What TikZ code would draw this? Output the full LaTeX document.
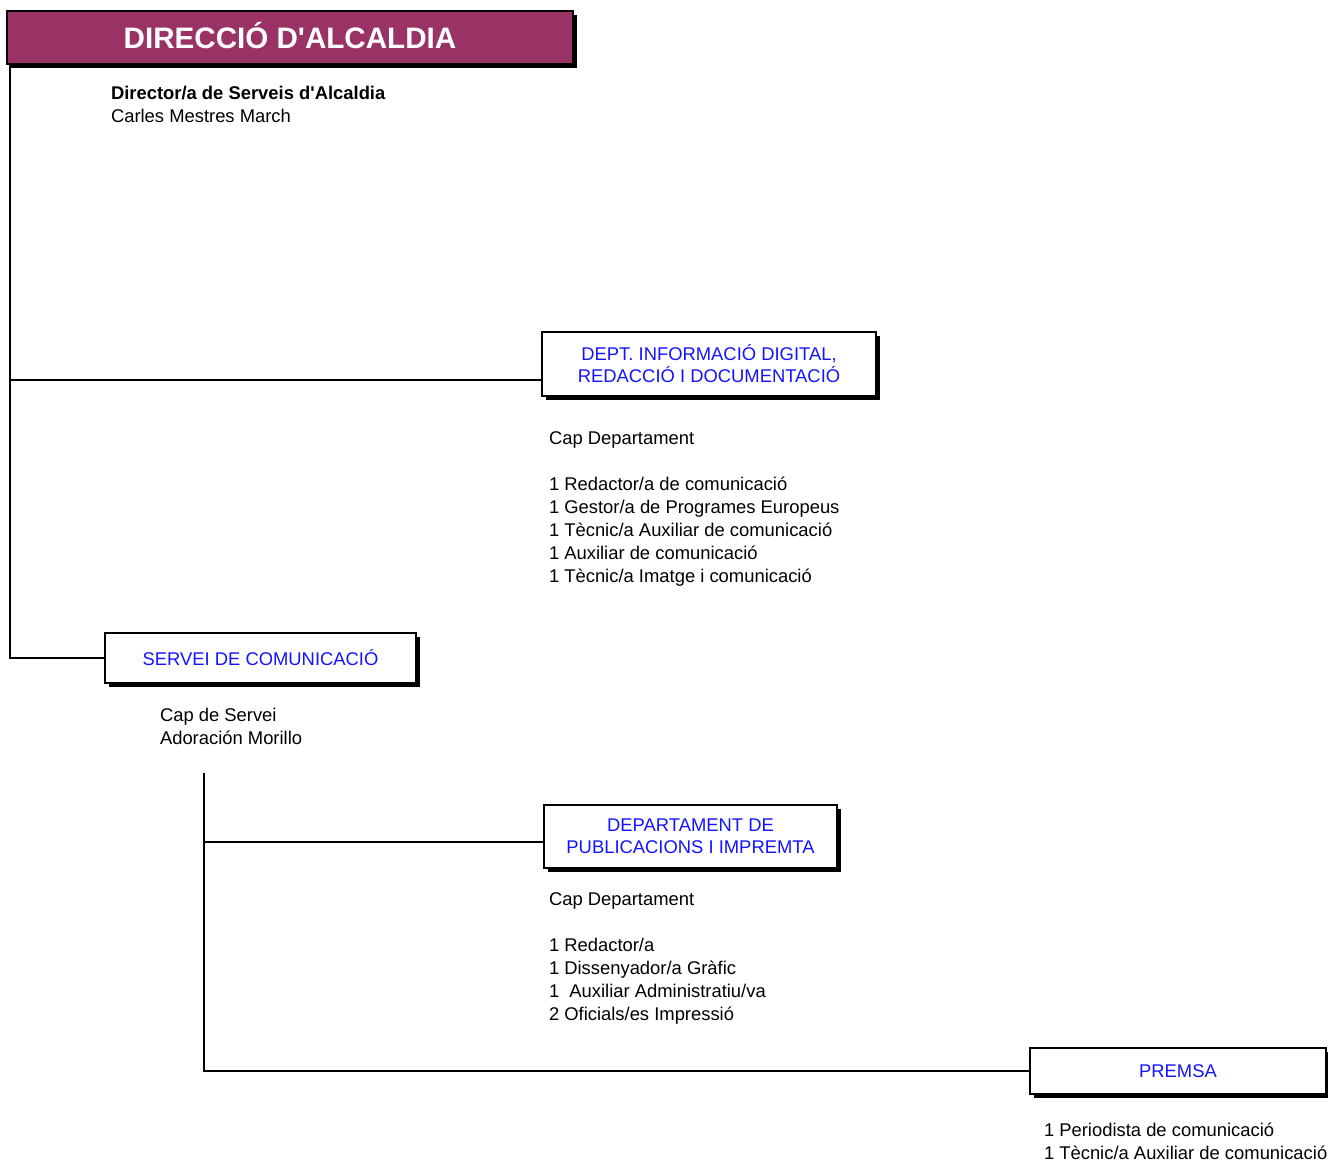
\documentclass[tikz,border=0pt]{standalone}
\usepackage{fontspec}
\setmainfont{Liberation Sans}
\usetikzlibrary{shadows}
\definecolor{titlefill}{RGB}{153,51,102}
\definecolor{boxblue}{RGB}{20,20,255}
\newcommand{\infolines}[1]{\begin{tabular}[t]{@{}l@{}}#1\end{tabular}}
\begin{document}
\begin{tikzpicture}[x=0.75pt,y=-0.75pt,
  every node/.style={inner sep=0pt,outer sep=0pt},
  shadowbox/.style={draw=black,line width=1pt,fill=white,
    drop shadow={shadow xshift=3pt,shadow yshift=-3pt,opacity=1,fill=black}},
  unitbox/.style={shadowbox,text=boxblue,align=center,
    font=\fontsize{13.8}{16.5}\selectfont},
  titlebox/.style={shadowbox,fill=titlefill,text=white,
    font=\fontsize{22.2}{26}\selectfont\bfseries},
  info/.style={anchor=base west,
    font=\fontsize{13.8}{17.25}\selectfont},
  conn/.style={line width=1.3pt,draw=black}]
\useasboundingbox (0,0) rectangle (1328,1161);

% boxes
\node[titlebox,minimum width=566*0.75pt,minimum height=53*0.75pt,text height=16pt,text depth=0pt] (title) at (290,37.5) {DIRECCIÓ D\textquotesingle ALCALDIA};
\node[unitbox,minimum width=334*0.75pt,minimum height=64*0.75pt] (dept) at (709,364) {DEPT. INFORMACIÓ DIGITAL,\\REDACCIÓ I DOCUMENTACIÓ};
\node[unitbox,minimum width=311*0.75pt,minimum height=50*0.75pt] (servei) at (260.5,658) {SERVEI DE COMUNICACIÓ};
\node[unitbox,minimum width=293*0.75pt,minimum height=63*0.75pt] (publ) at (690.5,836.5) {DEPARTAMENT DE\\PUBLICACIONS I IMPREMTA};
\node[unitbox,minimum width=296*0.75pt,minimum height=46*0.75pt] (premsa) at (1178,1071) {PREMSA};

% texts
\node[info] (dirtxt) at (111,99) {\infolines{\textbf{Director/a de Serveis d\textquotesingle Alcaldia}\\Carles Mestres March}};
\node[info] (depttxt) at (549,444) {\infolines{Cap Departament\\ \\1 Redactor/a de comunicació\\1 Gestor/a de Programes Europeus\\1 Tècnic/a Auxiliar de comunicació\\1 Auxiliar de comunicació\\1 Tècnic/a Imatge i comunicació}};
\node[info] (servtxt) at (160,721) {\infolines{Cap de Servei\\Adoración Morillo}};
\node[info] (publtxt) at (549,905) {\infolines{Cap Departament\\ \\1 Redactor/a\\1 Dissenyador/a Gràfic\\1~~Auxiliar Administratiu/va\\2 Oficials/es Impressió}};
\node[info] (premtxt) at (1044,1136) {\infolines{1 Periodista de comunicació\\1 Tècnic/a Auxiliar de comunicació}};

% connectors
\coordinate (trunkA) at (10,64);
\coordinate (jA) at (10,380);
\coordinate (trunkB) at (204,773);
\coordinate (jB) at (204,842);
\draw[conn] (trunkA) |- (servei.west);
\draw[conn] (jA) -- (jA -| dept.west);
\draw[conn] (trunkB) |- (premsa.west);
\draw[conn] (jB) -- (jB -| publ.west);
\end{tikzpicture}
\end{document}
